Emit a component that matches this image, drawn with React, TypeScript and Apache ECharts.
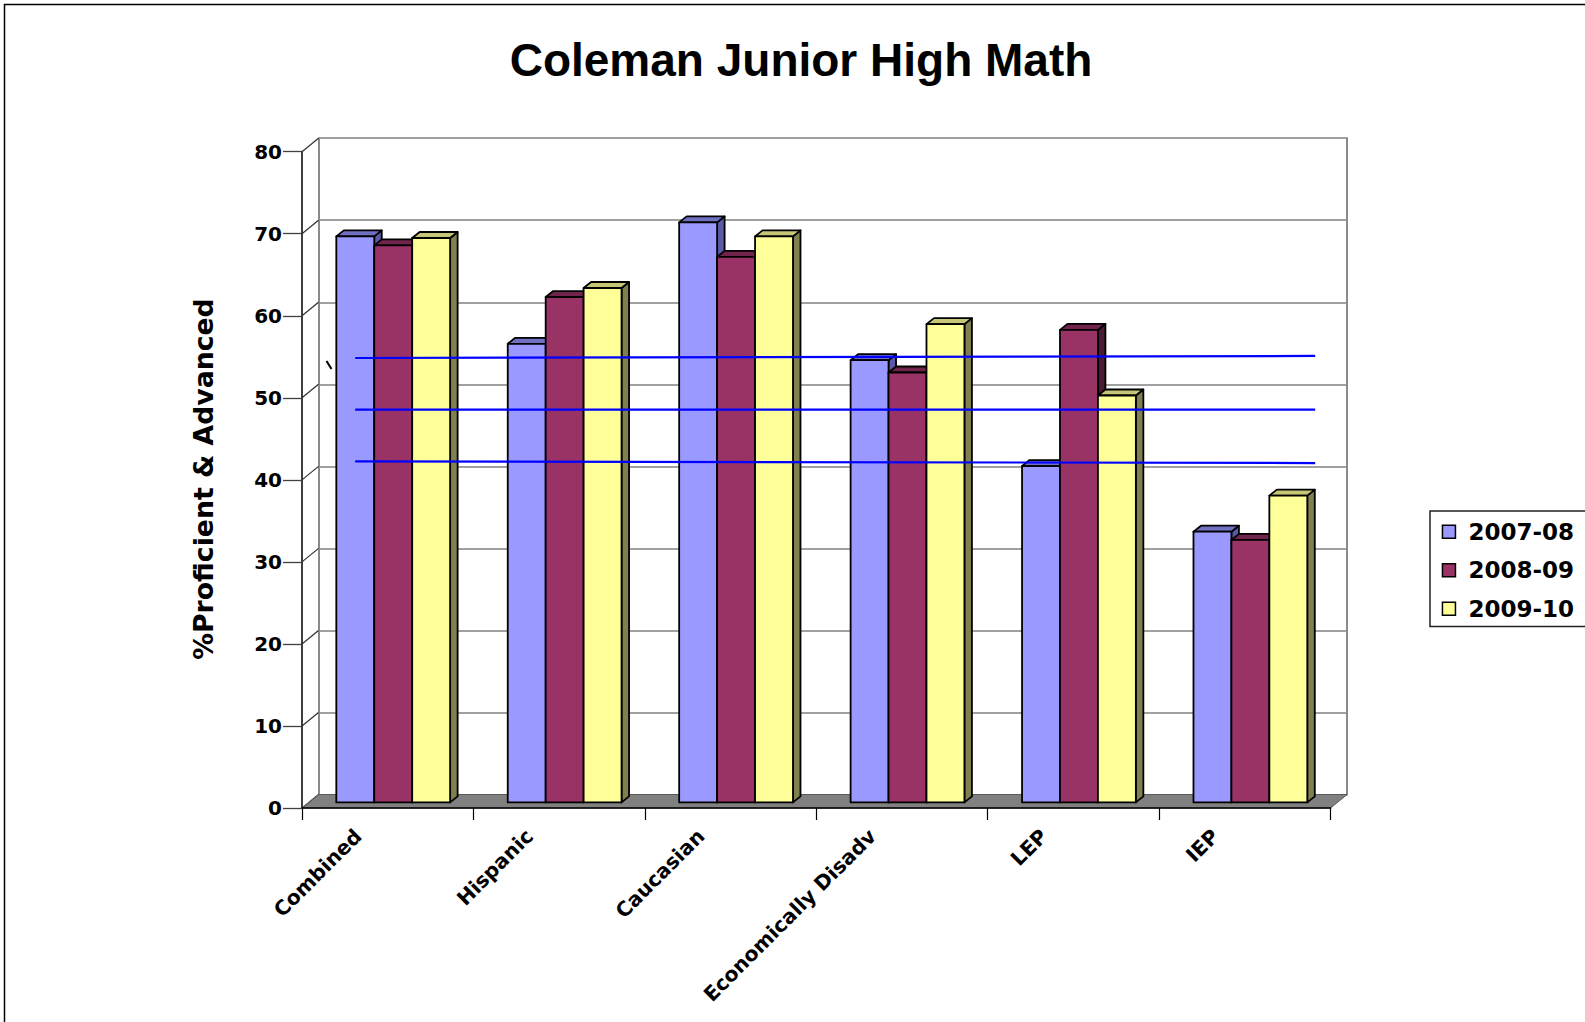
import React, { useEffect, useRef } from "react";
import * as echarts from "echarts";

// ---- data ----
const categories = ["Combined", "Hispanic", "Caucasian", "Economically Disadv", "LEP", "IEP"];
const years = ["2007-08", "2008-09", "2009-10"];
const values2007 = [69.0, 55.9, 70.7, 53.9, 41.0, 33.0];
const values2008 = [67.9, 61.6, 66.5, 52.4, 57.6, 32.0];
const values2009 = [68.8, 62.7, 69.0, 58.3, 49.6, 37.4];
const yTicks = [0, 10, 20, 30, 40, 50, 60, 70, 80];
// hand-drawn blue reference lines: value at left end / right end
const refLineLeft = [54.85, 48.55, 42.26];
const refLineRight = [55.1, 48.57, 42.05];
const refLineSpan = [-0.19, 5.41];

// ---- styling ----
const frontColors = ["#9999FF", "#993366", "#FFFF99"];
const topColors = ["#7070C2", "#70244B", "#C6C676"];
const sideColors = ["#5A5AA6", "#4B1A34", "#7F7F4F"];

const FRONT = { left: 302, top: 151.7, width: 1028.6, height: 656.3 };
const WALL = [16.5, -13.5];
const BAR_OFF = [5.5, -5.6];
const BAR_DEPTH = [7.5, -6];
const BAR_FRAC = 0.2213;

function barRenderer(s: number) {
  return (params: any, api: any) => {
    const c = api.value(0);
    const v = api.value(1);
    const base = api.coord([c, 0]);
    const top = api.coord([c, v]);
    const band = api.size([1, 0])[0];
    const bw = band * BAR_FRAC;
    const xl = base[0] + BAR_OFF[0] + (s - 1.5) * bw;
    const xr = xl + bw;
    const yb = base[1] + BAR_OFF[1];
    const yt = top[1] + BAR_OFF[1];
    const dx = BAR_DEPTH[0];
    const dy = BAR_DEPTH[1];
    const st = { stroke: "#000", lineWidth: 1.8, lineJoin: "round" };
    return {
      type: "group",
      children: [
        { type: "polygon", shape: { points: [[xr, yt], [xr + dx, yt + dy], [xr + dx, yb + dy], [xr, yb]] }, style: { fill: sideColors[s], ...st } },
        { type: "polygon", shape: { points: [[xl, yt], [xl + dx, yt + dy], [xr + dx, yt + dy], [xr, yt]] }, style: { fill: topColors[s], ...st } },
        { type: "polygon", shape: { points: [[xl, yb], [xl, yt], [xr, yt], [xr, yb]] }, style: { fill: frontColors[s], ...st } },
      ],
    };
  };
}

export default function App() {
  const ref = useRef<HTMLDivElement>(null);
  useEffect(() => {
    if (!ref.current) return;
    document.body.style.margin = "0";
    const chart = echarts.init(ref.current, null, { renderer: "svg" });
    const series: any[] = [];
    // floor
    series.push({
      type: "custom",
      name: "floor",
      z: 2,
      silent: true,
      xAxisIndex: 0,
      yAxisIndex: 0,
      data: [[0, 0]],
      renderItem: (p: any, api: any) => {
        const a = api.coord([0, 0]);
        const b = api.coord([categories.length - 1, 0]);
        const band = api.size([1, 0])[0];
        const x0 = a[0] - band / 2;
        const x1 = b[0] + band / 2;
        const y = a[1];
        return {
          type: "polygon",
          shape: { points: [[x0, y], [x1, y], [x1 + WALL[0], y + WALL[1]], [x0 + WALL[0], y + WALL[1]]] },
          style: { fill: "#808080", stroke: "#5a5a5a", lineWidth: 1 },
        };
      },
    });
    // left wall connectors
    series.push({
      type: "custom",
      name: "wall",
      z: 2,
      silent: true,
      xAxisIndex: 0,
      yAxisIndex: 0,
      data: yTicks.map((v) => [0, v]),
      renderItem: (p: any, api: any) => {
        const v = api.value(1);
        const pt = api.coord([0, v]);
        const band = api.size([1, 0])[0];
        const xa = pt[0] - band / 2;
        return {
          type: "line",
          shape: { x1: xa, y1: pt[1], x2: xa + WALL[0], y2: pt[1] + WALL[1] },
          style: { stroke: v === 0 ? "#5a5a5a" : "#303030", lineWidth: 1.2 },
        };
      },
    });
    [values2007, values2008, values2009].forEach((vals, s) => {
      series.push({
        type: "custom",
        name: years[s],
        z: 3,
        xAxisIndex: 0,
        yAxisIndex: 0,
        itemStyle: { color: frontColors[s] },
        data: vals.map((v, i) => [i, v]),
        encode: { x: 0, y: 1 },
        renderItem: barRenderer(s),
      });
    });
    refLineLeft.forEach((v, i) => {
      series.push({
        type: "line",
        name: "ref" + (i + 1),
        z: 5,
        silent: true,
        xAxisIndex: 2,
        yAxisIndex: 0,
        symbol: "none",
        lineStyle: { color: "#0000FF", width: 2.2 },
        data: [[refLineSpan[0], v], [refLineSpan[1], refLineRight[i]]],
      });
    });

    chart.setOption({
      animation: false,
      backgroundColor: "#ffffff",
      grid: [
        { left: FRONT.left, top: FRONT.top, width: FRONT.width, height: FRONT.height },
        { left: FRONT.left + WALL[0], top: FRONT.top + WALL[1], width: FRONT.width, height: FRONT.height },
      ],
      xAxis: [
        {
          type: "category",
          gridIndex: 0,
          data: categories,
          axisLine: { show: true, onZero: false, lineStyle: { color: "#000", width: 1.5 } },
          axisTick: { show: true, length: 12, lineStyle: { color: "#000", width: 1.2 } },
          axisLabel: {
            interval: 0,
            rotate: 45,
            margin: -5,
            padding: [0, 42, 0, 0],
            fontFamily: "DejaVu Sans",
            fontWeight: "bold",
            fontSize: 20.3,
            color: "#000",
          },
          splitLine: { show: false },
          z: 6,
        },
        { type: "category", gridIndex: 1, data: categories, show: false, axisLine: { onZero: false } },
        { type: "value", gridIndex: 0, min: -0.5, max: categories.length - 0.5, show: false, axisLine: { onZero: false } },
      ],
      yAxis: [
        {
          type: "value",
          gridIndex: 0,
          min: 0,
          max: 80,
          interval: 10,
          axisLine: { show: true, onZero: false, lineStyle: { color: "#2a2a2a", width: 1.8 } },
          axisTick: { show: true, length: 19, lineStyle: { color: "#404040", width: 1.3 } },
          axisLabel: { margin: 20, fontFamily: "DejaVu Sans", fontWeight: "bold", fontSize: 20, color: "#000" },
          splitLine: { show: false },
          z: 6,
        },
        {
          type: "value",
          gridIndex: 1,
          min: 0,
          max: 80,
          interval: 10,
          axisLine: { show: true, onZero: false, lineStyle: { color: "#8a8a8a", width: 2 } },
          axisTick: { show: false },
          axisLabel: { show: false },
          splitLine: { show: true, lineStyle: { color: "#808080", width: 1.5 } },
        },
        {
          type: "value",
          gridIndex: 1,
          position: "right",
          min: 0,
          max: 80,
          interval: 10,
          axisLine: { show: true, onZero: false, lineStyle: { color: "#8a8a8a", width: 2 } },
          axisTick: { show: false },
          axisLabel: { show: false },
          splitLine: { show: false },
        },
      ],
      legend: {
        orient: "vertical",
        left: 1430,
        top: 511,
        data: years.map((y, i) => ({
          name: y,
          icon: "rect",
          itemStyle: { color: frontColors[i], borderColor: "#000", borderWidth: 1.5 },
        })),
        itemWidth: 13,
        itemHeight: 13,
        itemGap: 14.5,
        padding: [8.7, 30, 5.7, 11.7],
        borderColor: "#222",
        borderWidth: 1.5,
        selectedMode: false,
        textStyle: {
          fontFamily: "DejaVu Sans",
          fontWeight: "bold",
          fontSize: 23,
          color: "#000",
          lineHeight: 24,
          padding: [0, 0, 0, 8],
        },
      },
      graphic: [
        {
          type: "rect",
          silent: true,
          z: -10,
          shape: { x: 4.5, y: 4.5, width: 1700, height: 1100 },
          style: { fill: "none", stroke: "#000", lineWidth: 1.5 },
        },
        {
          type: "text",
          x: 801,
          y: 60,
          style: {
            text: "Coleman Junior High Math",
            font: 'bold 46px "Liberation Sans", Arial, sans-serif',
            fill: "#000",
            align: "center",
            verticalAlign: "middle",
          },
        },
        {
          type: "text",
          x: 203,
          y: 479,
          rotation: Math.PI / 2,
          style: {
            text: "%Proficient & Advanced",
            font: 'bold 26.7px "DejaVu Sans", sans-serif',
            fill: "#000",
            align: "center",
            verticalAlign: "middle",
          },
        },
        {
          type: "line",
          silent: true,
          shape: { x1: 326.5, y1: 361, x2: 331.5, y2: 369 },
          style: { stroke: "#000", lineWidth: 2 },
        },
      ],
      series,
    });
    return () => chart.dispose();
  }, []);
  return <div ref={ref} style={{ position: "absolute", left: 0, top: 0, width: 1585, height: 1022 }} />;
}
